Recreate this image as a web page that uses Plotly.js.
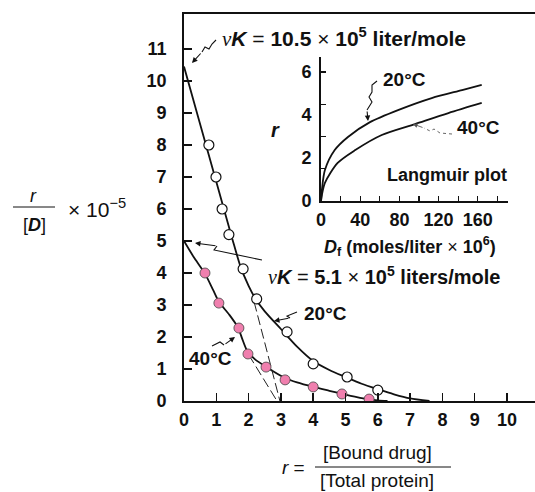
<!DOCTYPE html>
<html>
<head>
<meta charset="utf-8">
<script src="https://cdn.plot.ly/plotly-3.0.1.min.js"></script>
<style>html,body{margin:0;padding:0;background:#fff;}#chart{width:535px;height:492px;}</style>
</head>
<body>
<div id="chart"></div>
<script>
// ---- Scatchard plot data (r vs r/[D] x 10^-5) ----
const r20 = [0.77, 0.99, 1.18, 1.39, 1.83, 2.25, 3.19, 4.0, 5.05, 6.0];
const rd20 = [8.0, 7.0, 6.0, 5.2, 4.13, 3.19, 2.16, 1.16, 0.75, 0.34];
const r40 = [0.65, 1.08, 1.70, 1.98, 2.54, 3.13, 4.0, 4.89, 5.73];
const rd40 = [4.0, 3.06, 2.28, 1.47, 1.06, 0.66, 0.44, 0.22, 0.06];

// fitted curves
const fit20R = [0, 0.5, 1.0, 1.5, 1.75, 2.0, 2.2, 2.5, 3.0, 3.5, 4.0, 4.5, 5.0, 5.5, 6.0, 6.5, 7.0, 7.6];
const fit20Y = [10.45, 8.65, 6.85, 5.05, 4.2, 3.6, 3.22, 2.8, 2.25, 1.7, 1.25, 0.97, 0.75, 0.54, 0.37, 0.21, 0.08, 0];
const fit40R = [0, 0.3, 0.65, 0.9, 1.08, 1.4, 1.67, 1.8, 1.95, 2.2, 2.57, 3.13, 3.5, 4.0, 4.5, 4.92, 5.45, 6.0, 6.3];
const fit40Y = [5.0, 4.5, 3.98, 3.47, 3.1, 2.7, 2.3, 1.95, 1.58, 1.3, 1.05, 0.72, 0.58, 0.44, 0.32, 0.22, 0.1, 0.02, 0];

// extrapolated (dashed) initial slopes
const ext20R = [2.17, 2.97];
const ext20Y = [3.1, 0];
const ext40R = [2.0, 2.88];
const ext40Y = [1.45, 0];

// ---- Langmuir inset data ----
const D20 = [0, 1, 4, 14, 27.5, 50, 78.6, 113, 144, 164];
const rL20 = [0, 0.55, 1.44, 2.37, 2.98, 3.67, 4.23, 4.79, 5.16, 5.40];
const D40 = [0, 1, 4, 17, 35, 62, 96, 130, 164];
const rL40 = [0, 0.3, 0.84, 1.77, 2.37, 3.07, 3.58, 4.09, 4.56];

// tick labels
const xTicks = [0,1,2,3,4,5,6,7,8,9,10];
const yTicks = [0,1,2,3,4,5,6,7,8,9,10,11];
const insetXTicks = [0,40,80,120,160];
const insetYTicks = [0,2,4,6];

const FONT = 'Liberation Sans, Arial, Helvetica, sans-serif';
const SERIF = 'Liberation Serif, DejaVu Serif, serif';

// pixel -> paper helpers (plot area: x 184..535, y 14..401)
const L = 184, R = 535, T = 14, B = 401;
const px = x => (x - L) / (R - L);
const py = y => (B - y) / (B - T);
function pathOf(pts){ return pts.map((p,i)=>(i?'L':'M')+px(p[0]).toFixed(4)+','+py(p[1]).toFixed(4)).join(' '); }

const traces = [
  {x: fit20R, y: fit20Y, mode:'lines', line:{color:'#111', width:1.8, shape:'spline', smoothing:0.7}, hoverinfo:'skip'},
  {x: fit40R, y: fit40Y, mode:'lines', line:{color:'#111', width:1.8, shape:'spline', smoothing:0.7}, hoverinfo:'skip'},
  {x: ext20R, y: ext20Y, mode:'lines', line:{color:'#222', width:1, dash:'10px,4px'}, hoverinfo:'skip'},
  {x: ext40R, y: ext40Y, mode:'lines', line:{color:'#222', width:1, dash:'10px,4px'}, hoverinfo:'skip'},
  {x: r20, y: rd20, mode:'markers', marker:{symbol:'circle', size:10, color:'#fff', line:{color:'#111', width:1.2}}},
  {x: r40, y: rd40, mode:'markers', marker:{symbol:'circle', size:10, color:'#f07fae', line:{color:'#444', width:0.8}}},
  {x: D20, y: rL20, xaxis:'x2', yaxis:'y2', mode:'lines', line:{color:'#111', width:1.8, shape:'spline', smoothing:0.8}},
  {x: D40, y: rL40, xaxis:'x2', yaxis:'y2', mode:'lines', line:{color:'#111', width:1.8, shape:'spline', smoothing:0.8}}
];

function arrow(head, tail, extra){
  return Object.assign({xref:'paper', yref:'paper', x:px(head[0]), y:py(head[1]),
    ax: tail[0]-head[0], ay: tail[1]-head[1], showarrow:true, arrowhead:2, arrowsize:1,
    arrowwidth:1.1, arrowcolor:'#111', text:''}, extra||{});
}
function label(text, x, y, size, weight, anchor){
  return {xref:'paper', yref:'paper', x:px(x), y:py(y), xanchor:(anchor||'center'), yanchor:'middle',
    showarrow:false, text:text, font:{family:FONT, size:size, color:'#111', weight:(weight||700)}};
}

const nu = "<span style='font-family:" + SERIF + ";font-weight:normal'><i>ν</i></span>";
const eq = "<span style='font-weight:normal'> = </span>";
const times = "<span style='font-weight:normal'> × </span>";

const annotations = [
  label(nu + '<i>K</i>' + eq + '10.5' + times + '10<sup>5</sup> liter/mole', 220, 37, 21, 700, 'left'),
  label(nu + '<i>K</i>' + eq + '5.1' + times + '10<sup>5</sup> liters/mole', 266, 275, 20, 700, 'left'),
  label('20°C', 325, 313, 19),
  label('40°C', 210, 358, 19),
  label('20°C', 404, 80, 19),
  label('40°C', 478, 128, 19),
  label('Langmuir plot', 447, 175, 18),
  label('<i>r</i>', 275, 130, 20),
  label('<i>D</i><sub>f</sub> (moles/liter' + times + '10<sup>6</sup>)', 410, 246, 18),
  // y axis title
  label('<i>r</i>', 33, 196, 18, 400),
  label('[<b><i>D</i></b>]', 34, 225, 18, 400),
  label('× 10<sup>−5</sup>', 97, 208, 21, 400),
  // x axis title
  label('<i>r</i> =', 293, 467, 19, 400),
  label('[Bound drug]', 377, 452, 19, 400),
  label('[Total protein]', 377, 480, 19, 400),
  // arrows
  arrow([192,63],[202,52]),
  arrow([195,243],[217,246]),
  arrow([274,321],[290,318]),
  arrow([235,337],[224,345]),
  arrow([368,121],[367,110]),
  arrow([413,124],[424,128], {arrowwidth:0.9, arrowcolor:'#555'})
];

const shapes = [
  {type:'line', xref:'paper', yref:'paper', x0:px(13), x1:px(55), y0:py(207), y1:py(207), line:{color:'#111', width:1}},
  {type:'line', xref:'paper', yref:'paper', x0:px(315), x1:px(451), y0:py(467), y1:py(467), line:{color:'#111', width:1}},
  {type:'path', xref:'paper', yref:'paper', path:pathOf([[216,40],[212,44],[209,49],[205,47],[202,52]]), line:{color:'#111', width:1.1}},
  {type:'path', xref:'paper', yref:'paper', path:pathOf([[262,260],[214,250],[217,246]]), line:{color:'#111', width:1.1}},
  {type:'path', xref:'paper', yref:'paper', path:pathOf([[297,312],[287,316],[290,318]]), line:{color:'#111', width:1.1}},
  {type:'path', xref:'paper', yref:'paper', path:pathOf([[212,346],[220,342],[224,345]]), line:{color:'#111', width:1.1}},
  {type:'path', xref:'paper', yref:'paper', path:pathOf([[377,81],[372,85],[372,92],[369,97],[372,102],[367,110]]), line:{color:'#111', width:1.1}},
  {type:'path', xref:'paper', yref:'paper', path:pathOf([[452,134],[440,133],[434,129],[430,131],[424,128]]), line:{color:'#555', width:0.9, dash:'dot'}}
];

const layout = {
  width:535, height:492,
  margin:{l:L, r:0, t:T, b:492-B, pad:0},
  paper_bgcolor:'#fff', plot_bgcolor:'#fff',
  showlegend:false,
  font:{family:FONT, size:18, color:'#111', weight:700},
  xaxis:{range:[0, (R-L)/32.3], tickvals:xTicks, ticktext:xTicks.map(String), ticks:'inside', ticklen:8, tickwidth:1.5, tickcolor:'#111',
         showline:true, linecolor:'#111', linewidth:1.8, mirror:true, showgrid:false, zeroline:false, ticklabelstandoff:2,
         tickfont:{family:FONT, size:18, color:'#111', weight:700}},
  yaxis:{range:[0, (B-T)/32], tickvals:yTicks, ticktext:yTicks.map(String), ticks:'inside', ticklen:8, tickwidth:1.5, tickcolor:'#111',
         showline:true, linecolor:'#111', linewidth:1.8, showgrid:false, zeroline:false, ticklabelstandoff:12,
         tickfont:{family:FONT, size:18, color:'#111', weight:700}},
  xaxis2:{domain:[px(321), px(508)], anchor:'y2', range:[0, (508-321)/0.98], tickvals:insetXTicks, ticks:'', showline:true,
          linecolor:'#111', linewidth:1.8, showgrid:false, zeroline:false, ticklabelstandoff:2,
          minor:{tickvals:[20,40,60,80,100,120,140,160,180], ticks:'inside', ticklen:5, tickwidth:1.2, tickcolor:'#111', showgrid:false},
          tickfont:{family:FONT, size:18, color:'#111', weight:700}},
  yaxis2:{domain:[py(201), py(57)], anchor:'x2', range:[0, (201-57)/21.5], tickvals:insetYTicks, ticks:'', showline:true,
          linecolor:'#111', linewidth:1.8, showgrid:false, zeroline:false, ticklabelstandoff:4,
          minor:{tickvals:[1.5,3,4.5,6], ticks:'inside', ticklen:5, tickwidth:1.2, tickcolor:'#111', showgrid:false},
          tickfont:{family:FONT, size:18, color:'#111', weight:700}},
  annotations: annotations,
  shapes: shapes
};

Plotly.newPlot('chart', traces, layout, {staticPlot:true, displayModeBar:false});
</script>
</body>
</html>
